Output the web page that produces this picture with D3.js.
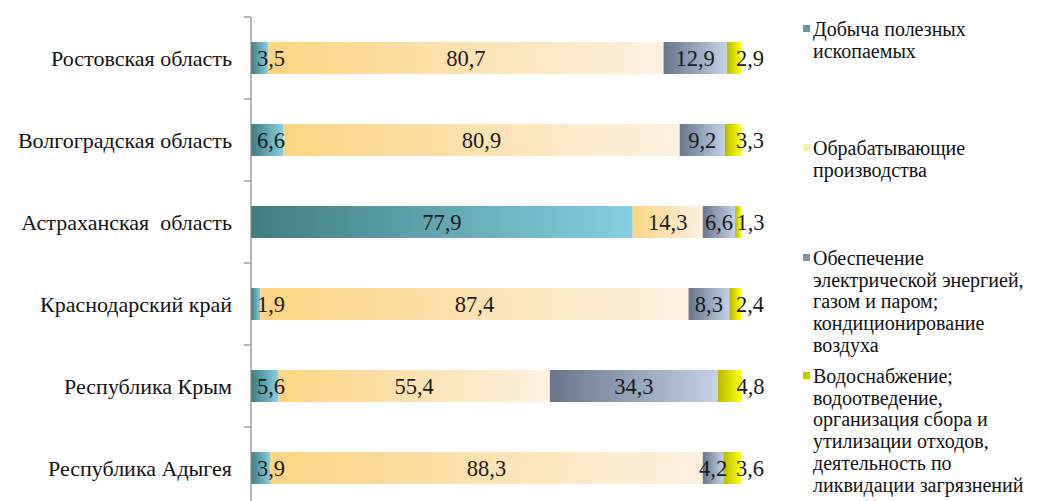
<!DOCTYPE html>
<html>
<head>
<meta charset="utf-8">
<script src="https://cdn.jsdelivr.net/npm/d3@7"></script>
<style>
  html, body { margin: 0; padding: 0; background: #fff; }
  svg { display: block; }
</style>
</head>
<body>
<div id="chart"></div>
<script>
// Структура отгруженной продукции по видам деятельности, %
const categories = [
  'Ростовская область',
  'Волгоградская область',
  'Астраханская  область',
  'Краснодарский край',
  'Республика Крым',
  'Республика Адыгея'
];
const seriesNames = [
  'Добыча полезных ископаемых',
  'Обрабатывающие производства',
  'Обеспечение электрической энергией, газом и паром; кондиционирование воздуха',
  'Водоснабжение; водоотведение, организация сбора и утилизации отходов, деятельность по ликвидации загрязнений'
];
const mining = [3.5, 6.6, 77.9, 1.9, 5.6, 3.9];
const manufacturing = [80.7, 80.9, 14.3, 87.4, 55.4, 88.3];
const energy = [12.9, 9.2, 6.6, 8.3, 34.3, 4.2];
const water = [2.9, 3.3, 1.3, 2.4, 4.8, 3.6];

// legend text broken into lines as in the original
const legendLines = [
  ['Добыча полезных', 'ископаемых'],
  ['Обрабатывающие', 'производства'],
  ['Обеспечение', 'электрической энергией,', 'газом и паром;', 'кондиционирование', 'воздуха'],
  ['Водоснабжение;', 'водоотведение,', 'организация сбора и', 'утилизации отходов,', 'деятельность по', 'ликвидации загрязнений']
];

const width = 1041, height = 501;
const margin = { top: 17, left: 251 };
const plotRight = 741;
const step = 82;
const serif = 'Liberation Serif';

const svg = d3.select('#chart').append('svg')
  .attr('width', width)
  .attr('height', height)
  .attr('font-family', serif);

// gradients (per bar, like the Excel fill)
const grads = [
  ['#3f7d80', '#86d0e2'],
  ['#fcd482', '#fdf1e0'],
  ['#68758c', '#c4d2e8'],
  ['#b9b800', '#ffff10']
];
const legendFill = ['#5d9aa5', '#f4f2a8', '#8a90a4', '#b8d400'];
const defs = svg.append('defs');
grads.forEach((g, i) => {
  const lg = defs.append('linearGradient').attr('id', 'g' + i)
    .attr('x1', 0).attr('x2', 1).attr('y1', 0).attr('y2', 0);
  lg.append('stop').attr('offset', '0%').attr('stop-color', g[0]);
  lg.append('stop').attr('offset', '100%').attr('stop-color', g[1]);
});

const rows = categories.map((c, i) => ({
  cat: c, m0: mining[i], m1: manufacturing[i], m2: energy[i], m3: water[i]
}));
const stack = d3.stack().keys(['m0', 'm1', 'm2', 'm3']);
const stacked = stack(rows);

const x = d3.scaleLinear().domain([0, 100]).range([margin.left, plotRight]);
const y = d3.scaleBand().domain(categories)
  .range([margin.top, margin.top + step * categories.length])
  .paddingInner(0.61).paddingOuter(0.305);

const fmt = v => d3.format('.1f')(v).replace('.', ',');

// bars
stacked.forEach((s, si) => {
  svg.append('g').selectAll('rect')
    .data(s)
    .enter().append('rect')
    .attr('x', d => x(d[0]))
    .attr('y', d => y(d.data.cat))
    .attr('width', d => x(d[1]) - x(d[0]))
    .attr('height', y.bandwidth())
    .attr('fill', `url(#g${si})`);
});

// value labels
stacked.forEach((s, si) => {
  svg.append('g').selectAll('text')
    .data(s)
    .enter().append('text')
    .attr('x', d => {
      const c = (x(d[0]) + x(d[1])) / 2;
      if (si === 0) return Math.max(c, x(d[0]) + 20);
      if (si === 3) return x(d[1]) + 9;
      return c;
    })
    .attr('y', d => y(d.data.cat) + y.bandwidth() / 2)
    .attr('dy', '0.35em')
    .attr('text-anchor', 'middle')
    .attr('font-size', 22.5)
    .attr('fill', '#1a1a1a')
    .text(d => fmt(d[1] - d[0]));
});

// category axis
const yTicks = d3.scaleLinear().domain([0, categories.length])
  .range([margin.top, margin.top + step * categories.length]);
svg.append('line')
  .attr('x1', margin.left).attr('x2', margin.left)
  .attr('y1', margin.top).attr('y2', height)
  .attr('stroke', '#888').attr('stroke-width', 1.2);
svg.append('g').selectAll('line')
  .data(d3.range(categories.length))
  .enter().append('line')
  .attr('x1', margin.left - 7).attr('x2', margin.left)
  .attr('y1', d => yTicks(d)).attr('y2', d => yTicks(d))
  .attr('stroke', '#888').attr('stroke-width', 1.2);

svg.append('g').selectAll('text')
  .data(categories)
  .enter().append('text')
  .attr('x', 232)
  .attr('y', d => y(d) + y.bandwidth() / 2)
  .attr('dy', '0.35em')
  .attr('text-anchor', 'end')
  .attr('font-size', 22)
  .attr('fill', '#111')
  .style('white-space', 'pre')
  .text(d => d);

// legend
const legendBase = [36, 155, 265, 383];
const lineH = 21.7;
const leg = svg.append('g').attr('class', 'legend');
legendLines.forEach((lines, i) => {
  const g = leg.append('g').attr('transform', `translate(803, ${legendBase[i]})`);
  g.append('rect')
    .attr('x', 0).attr('y', -11)
    .attr('width', 7).attr('height', 7)
    .attr('fill', legendFill[i]);
  const t = g.append('text').attr('font-size', 20).attr('fill', '#111');
  lines.forEach((l, k) => {
    t.append('tspan').attr('x', 10).attr('y', k * lineH).text(l);
  });
  g.append('title').text(seriesNames[i]);
});
</script>
</body>
</html>
